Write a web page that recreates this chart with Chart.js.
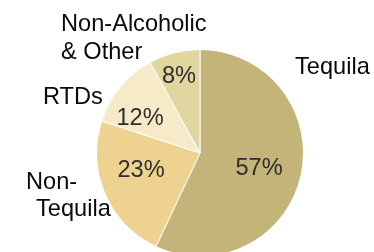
<!DOCTYPE html>
<html>
<head>
<meta charset="utf-8">
<script src="https://cdn.jsdelivr.net/npm/chart.js@4/dist/chart.umd.min.js"></script>
<style>
  html, body { margin: 0; padding: 0; overflow: hidden; background: #fff; }
  #wrap { position: relative; width: 374px; height: 262px; }
</style>
</head>
<body>
<div id="wrap"><canvas id="c"></canvas></div>
<script>
const categories = ["Tequila", "Non-Tequila", "RTDs", "Non-Alcoholic & Other"];
const shares = [57, 23, 12, 8];
const sliceColors = ["#C3B57A", "#EDD38F", "#F7EAC8", "#E0D7A0"];
// outer label lines per category
const labelLines = [["Tequila"], ["Non-", "Tequila"], ["RTDs"], ["Non-Alcoholic", "& Other"]];

// text placement offsets relative to pie centre (px)
const pctOffsets = [[59, 22], [-59, 24], [-60, -28], [-21, -70]];
const lblOffsets = [
  [[95, -79]],
  [[-174, 36], [-164, 63]],
  [[-157, -49]],
  [[-139, -122], [-139, -94]]
];

const textPlugin = {
  id: 'pieText',
  afterDatasetsDraw(chart) {
    const meta = chart.getDatasetMeta(0);
    const arc = meta.data[0];
    const cx = arc.x, cy = arc.y;
    const ctx = chart.ctx;
    ctx.save();
    ctx.font = '23.6px "Liberation Sans", Arial, sans-serif';
    ctx.textBaseline = 'alphabetic';
    // percentages
    ctx.fillStyle = '#2e2e2e';
    ctx.textAlign = 'center';
    shares.forEach((v, i) => {
      const [dx, dy] = pctOffsets[i];
      ctx.fillText(v + '%', cx + dx, cy + dy);
    });
    // category labels
    ctx.fillStyle = '#0a0a0a';
    ctx.textAlign = 'left';
    labelLines.forEach((lines, i) => {
      lines.forEach((t, j) => {
        const [dx, dy] = lblOffsets[i][j];
        ctx.fillText(t, cx + dx, cy + dy);
      });
    });
    ctx.restore();
  }
};

new Chart(document.getElementById('c'), {
  type: 'pie',
  data: {
    labels: categories,
    datasets: [{
      data: shares,
      backgroundColor: sliceColors,
      borderColor: '#ffffff',
      borderWidth: 1
    }]
  },
  options: {
    responsive: true,
    maintainAspectRatio: false,
    animation: false,
    layout: { padding: { left: 96, right: 70, top: 49, bottom: 5 } },
    plugins: { legend: { display: false }, tooltip: { enabled: false } }
  },
  plugins: [textPlugin]
});
</script>
</body>
</html>
